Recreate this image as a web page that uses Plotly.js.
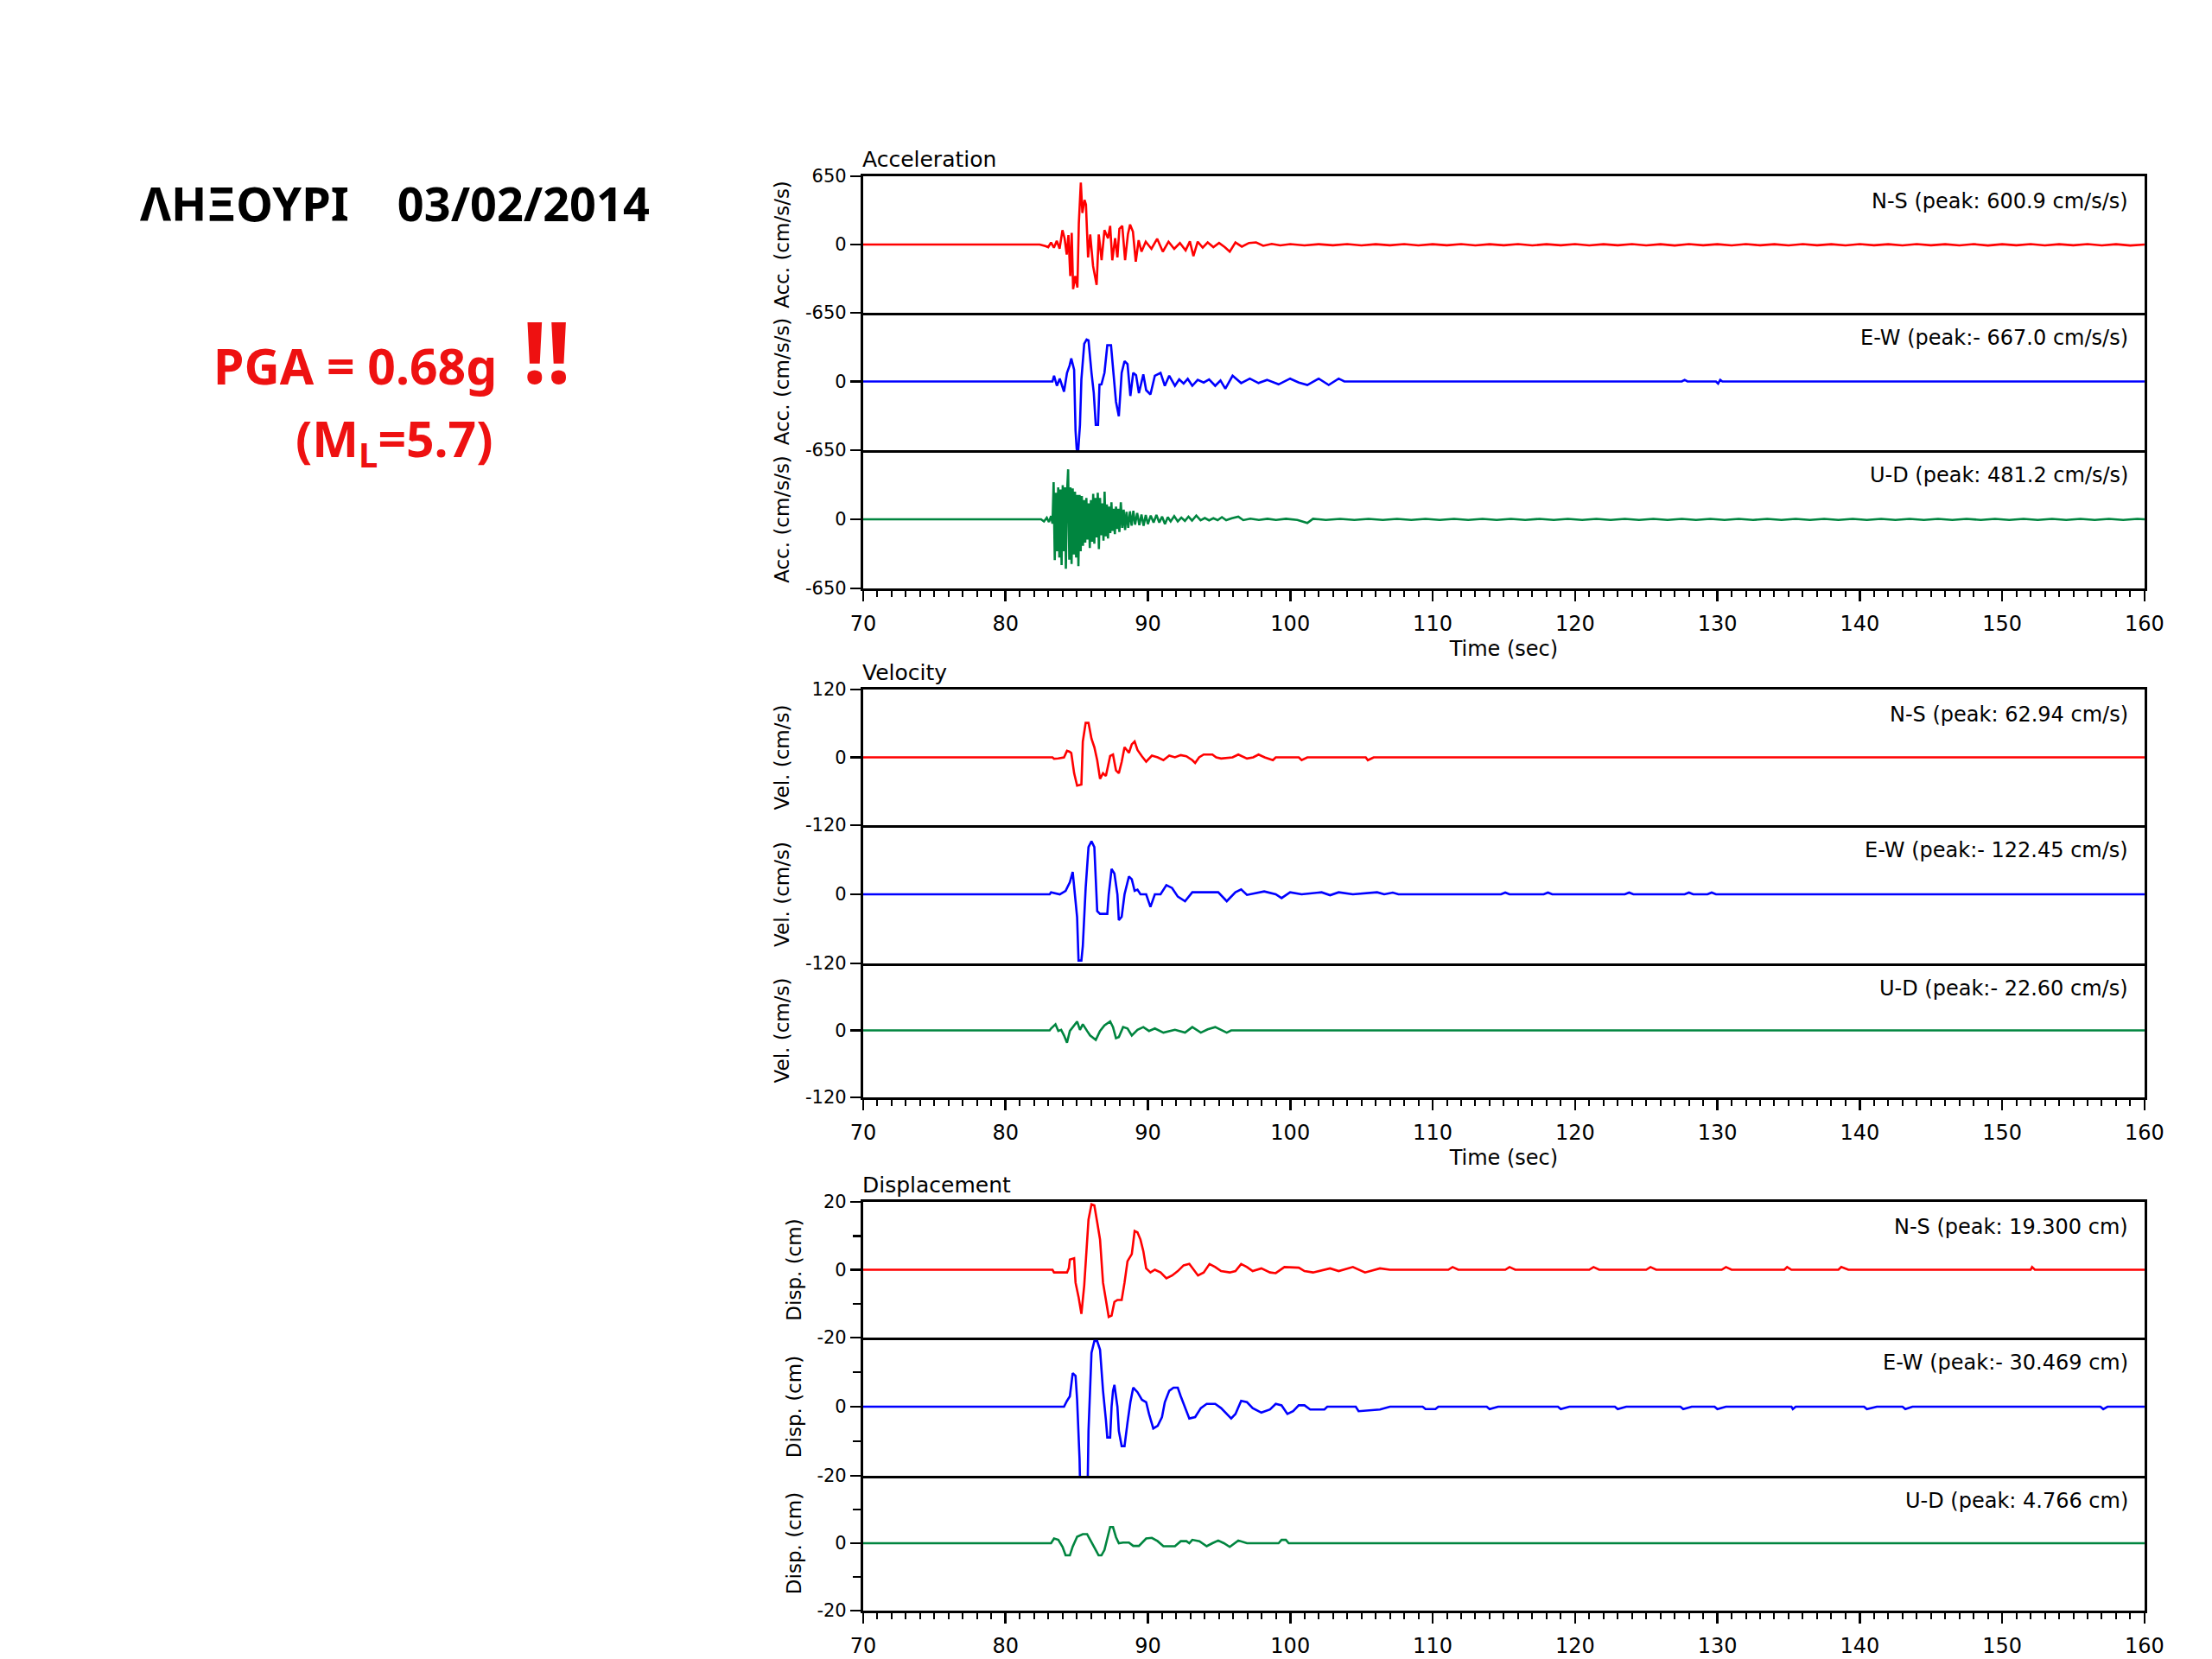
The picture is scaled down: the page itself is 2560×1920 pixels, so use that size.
<!DOCTYPE html>
<html><head><meta charset="utf-8">
<script src="https://cdn.plot.ly/plotly-3.0.1.min.js"></script>
<style>html,body{margin:0;padding:0;background:#fff}</style>
</head><body><div id="chart" style="width:2560px;height:1920px"></div>
<script>
// ---- data: [time (s), value] ----
const accNS = [[70,0],[82.4,0],[82.8,-15],[83.0,-25],[83.2,20],[83.4,-30],[83.6,35],[83.8,-40],[84.0,137],[84.15,60],[84.3,-96],[84.42,90],[84.55,-300],[84.65,110],[84.75,-425],[84.9,-300],[85.05,-410],[85.15,200],[85.29,590],[85.4,300],[85.55,425],[85.65,380],[85.8,-123],[85.95,96],[86.15,-205],[86.4,-384],[86.55,96],[86.75,-150],[86.95,137],[87.2,60],[87.35,178],[87.5,-150],[87.7,60],[87.86,-123],[88.0,150],[88.2,178],[88.4,-150],[88.6,100],[88.75,190],[88.95,123],[89.15,-164],[89.35,41],[89.55,-68],[89.85,27],[90.25,-41],[90.65,55],[91.05,-68],[91.45,27],[91.85,-41],[92.25,14],[92.65,-55],[92.95,30],[93.2,-110],[93.5,27],[93.85,-30],[94.2,20],[94.6,-25],[95.0,15],[95.4,-25],[95.75,-68],[96.15,20],[96.6,-20],[97.1,15],[97.6,20],[98.1,-12],[98.7,6],[99.3,-8],[100,4],[101,-8],[102,3],[103,-7],[104,4],[105,-8],[106,3],[107,-7],[108,4],[109,-8],[110,3],[111,-7],[112,4],[113,-8],[114,3],[115,-7],[116,4],[117,-8],[118,3],[119,-7],[120,4],[121,-8],[122,3],[123,-7],[124,4],[125,-8],[126,3],[127,-9],[128,4],[129,-7],[130,3],[131,-8],[132,4],[133,-7],[134,3],[135,-8],[136,4],[137,-7],[138,3],[139,-8],[140,4],[141,-7],[142,3],[143,-8],[144,4],[145,-7],[146,3],[147,-8],[148,4],[149,-9],[150,3],[151,-7],[152,4],[153,-8],[154,3],[155,-7],[156,4],[157,-8],[158,3],[159,-9],[160,0]];
const accEW = [[70,0],[83.3,0],[83.41,55],[83.61,-41],[83.81,27],[84.11,-96],[84.32,82],[84.5,150],[84.62,219],[84.82,110],[84.92,-466],[85.0,-640],[85.1,-667],[85.23,-411],[85.33,20],[85.53,356],[85.7,397],[85.83,390],[86.04,82],[86.2,-110],[86.34,-411],[86.5,-411],[86.6,-30],[86.74,-27],[86.95,82],[87.15,343],[87.41,343],[87.55,110],[87.76,-192],[87.96,-329],[88.16,82],[88.36,192],[88.57,164],[88.77,-137],[88.97,82],[89.17,60],[89.37,-110],[89.68,68],[89.88,-82],[90.18,-123],[90.49,55],[90.89,82],[91.19,-41],[91.5,55],[91.9,-41],[92.2,20],[92.51,-20],[92.8,25],[93.12,-41],[93.5,15],[93.92,-10],[94.3,20],[94.73,-41],[95.1,10],[95.44,-68],[95.95,55],[96.55,-15],[97.16,27],[97.77,-15],[98.37,15],[98.8,-10],[99.18,-27],[99.99,27],[100.6,-10],[101.2,-33],[102.0,27],[102.7,-33],[103.4,27],[103.8,0],[127.5,0],[127.7,15],[127.9,0],[129.9,0],[130.05,-20],[130.2,15],[130.35,0],[160,0]];
const accUD = [[70,0],[82.5,0],[82.7,-20],[82.9,15],[83.05,-25],[83.2,30],[83.3,-40],[83.38,350],[83.46,-384],[83.54,250],[83.62,-300],[83.7,300],[83.78,-360],[83.86,280],[83.94,-430],[84.02,320],[84.1,-300],[84.18,300],[84.24,-466],[84.32,250],[84.4,470],[84.48,-380],[84.56,300],[84.64,-420],[84.72,290],[84.8,-330],[84.88,260],[84.96,-360],[85.04,230],[85.12,-440],[85.2,230],[85.28,-300],[85.36,220],[85.44,-250],[85.52,180],[85.6,-220],[85.68,200],[85.76,-190],[85.84,150],[85.92,-270],[86.0,180],[86.08,-210],[86.16,240],[86.24,-230],[86.32,200],[86.4,-170],[86.48,250],[86.56,-280],[86.64,200],[86.72,-150],[86.8,150],[86.88,-200],[86.96,260],[87.04,-160],[87.12,140],[87.2,-180],[87.28,120],[87.36,-130],[87.44,160],[87.52,-110],[87.6,100],[87.68,-140],[87.76,120],[87.84,-90],[87.92,100],[88.0,-120],[88.1,160],[88.2,-80],[88.3,90],[88.4,-100],[88.5,70],[88.62,-80],[88.74,75],[88.86,-60],[88.98,80],[89.1,-50],[89.25,60],[89.4,-55],[89.55,45],[89.7,-60],[89.85,40],[90.0,-45],[90.2,35],[90.4,-30],[90.6,40],[90.8,-30],[91.0,25],[91.2,-45],[91.4,20],[91.6,-20],[91.85,30],[92.1,-20],[92.35,15],[92.6,-15],[92.85,25],[93.1,-12],[93.4,35],[93.7,-10],[94.0,12],[94.3,-10],[94.6,10],[94.9,-8],[95.2,20],[95.5,-8],[95.9,10],[96.35,25],[96.7,-8],[97.2,6],[97.8,-6],[98.4,5],[99.0,-6],[99.7,5],[100.5,-6],[101.2,-35],[101.6,5],[102.5,-6],[103.5,4],[104.5,-6],[105.5,4],[106.5,-6],[107.5,4],[108.5,-6],[109.5,4],[110.5,-6],[111.5,4],[112.5,-6],[113.5,4],[114.5,-6],[115.5,4],[116.5,-6],[117.5,4],[118.5,-6],[119.5,4],[120.5,-6],[121.5,4],[122.5,-6],[123.5,4],[124.5,-6],[125.5,4],[126.5,-6],[127.5,4],[128.5,-6],[129.5,4],[130.5,-6],[131.5,4],[132.5,-6],[133.5,4],[134.5,-6],[135.5,4],[136.5,-6],[137.5,4],[138.5,-6],[139.5,4],[140.5,-6],[141.5,4],[142.5,-6],[143.5,4],[144.5,-6],[145.5,4],[146.5,-6],[147.5,4],[148.5,-6],[149.5,4],[150.5,-6],[151.5,4],[152.5,-6],[153.5,4],[154.5,-6],[155.5,4],[156.5,-6],[157.5,4],[158.5,-6],[159.5,4],[160,0]];
const velNS = [[70,0],[83.3,0],[83.41,-2.5],[83.7,-2],[84.11,0],[84.32,11.6],[84.5,10],[84.62,7.6],[84.82,-28],[85.03,-50],[85.33,-48],[85.43,28],[85.63,61],[85.83,61],[86.04,33],[86.24,18],[86.44,-5],[86.64,-38],[86.85,-28],[87.05,-33],[87.35,2.5],[87.55,5],[87.76,-23],[87.96,-28],[88.16,-8],[88.36,18],[88.67,8],[88.87,23],[89.07,28],[89.27,13],[89.58,2],[89.88,-7.6],[90.28,3],[90.69,0],[91.09,-5],[91.5,3],[91.9,0],[92.31,4],[92.7,2],[93.12,-5],[93.32,-10],[93.6,0],[93.92,5],[94.53,5],[94.8,0],[95.14,-2],[95.95,0],[96.35,5],[96.96,-2],[97.4,0],[97.77,5],[98.2,0],[98.78,-5],[98.98,0],[100.6,0],[100.8,-5],[101.2,0],[105.3,0],[105.45,-5],[105.86,0],[160,0]];
const velEW = [[70,0],[83.1,0],[83.2,3.5],[83.5,2],[83.81,0],[84.22,6],[84.52,21],[84.72,39],[84.82,11],[85.03,-40],[85.13,-115],[85.33,-115],[85.43,-90],[85.63,11],[85.83,82],[86.04,92],[86.24,82],[86.34,31],[86.44,-29],[86.64,-34],[87.15,-34],[87.25,0],[87.35,21],[87.45,44],[87.65,36],[87.86,0],[87.96,-45],[88.16,-39],[88.36,0],[88.67,31],[88.87,26],[89.07,6],[89.27,8],[89.48,0],[89.88,0],[90.18,-22],[90.49,0],[90.89,0],[91.3,16],[91.7,11],[92.1,-4],[92.61,-12],[93.12,3.5],[94.94,3.5],[95.54,-12],[96.15,3.5],[96.55,8.6],[96.96,-1],[98.17,5],[98.98,0],[99.39,-6.6],[99.99,3.5],[100.8,0],[102.2,3.5],[102.8,-1.5],[103.4,3.5],[104.4,0],[106.1,3.5],[106.6,0],[107.2,3],[107.6,0],[114.8,0],[115.1,3],[115.4,0],[117.8,0],[118.1,3],[118.4,0],[123.5,0],[123.8,3],[124.1,0],[127.7,0],[128,3],[128.3,0],[129.3,0],[129.6,3],[129.9,0],[160,0]];
const velUD = [[70,0],[83.1,0],[83.2,3.5],[83.51,11],[83.71,-1],[83.91,1],[84.11,-9],[84.32,-22],[84.52,-1],[84.72,6],[85.03,16],[85.23,1],[85.43,11],[85.73,-1],[85.94,-9],[86.34,-17],[86.64,-1],[86.95,9],[87.35,16],[87.55,6],[87.76,-14],[87.96,-12],[88.26,6],[88.57,3.5],[88.87,-9],[89.27,1],[89.68,6],[90.08,-1],[90.49,3.5],[91.09,-4],[91.9,1],[92.61,-4],[93.12,6],[93.72,-4],[94.2,2],[94.73,6],[95.14,1],[95.54,-4],[95.85,0],[160,0]];
const dispNS = [[70,0],[83.3,0],[83.41,-0.8],[84.32,-0.8],[84.45,0.5],[84.52,3],[84.82,3.4],[84.92,-3.8],[85.13,-8],[85.33,-13],[85.53,-4.6],[85.63,3],[85.83,14.8],[86.04,19.3],[86.24,19],[86.44,14],[86.64,8.9],[86.85,-3.8],[87.05,-8.9],[87.25,-13.9],[87.45,-13.5],[87.65,-9.5],[87.86,-8.9],[88.16,-8.9],[88.36,-3.8],[88.57,2.5],[88.87,4.6],[89.07,11.4],[89.27,11],[89.48,8.9],[89.68,5.5],[89.88,0.4],[90.18,-0.8],[90.49,0],[90.89,-0.8],[91.3,-2.5],[91.7,-1.7],[92.1,-0.4],[92.51,1.3],[92.91,1.7],[93.22,0],[93.52,-1.7],[93.92,-0.8],[94.33,1.7],[94.73,0.8],[95.14,-0.4],[95.75,-0.8],[96.15,-0.4],[96.55,1.7],[96.96,0.8],[97.36,-0.4],[97.97,0.4],[98.58,-0.8],[98.98,-1],[99.59,0.8],[100.6,0.6],[101.0,-0.4],[101.6,-0.8],[102.8,0.4],[103.4,-0.4],[104.4,0.8],[105.25,-0.8],[106.3,0.4],[107,0],[111.1,0],[111.4,0.8],[111.8,0],[115.1,0],[115.4,0.8],[115.8,0],[121.0,0],[121.3,0.8],[121.7,0],[125.0,0],[125.3,0.8],[125.7,0],[130.3,0],[130.6,0.8],[131,0],[134.7,0],[134.9,0.8],[135.2,0],[138.5,0],[138.7,0.8],[139.2,0],[152.0,0],[152.1,0.8],[152.3,0],[160,0]];
const dispEW = [[70,0],[84.11,0],[84.32,1.7],[84.52,3],[84.72,9.7],[84.92,8.9],[85.03,2],[85.13,-8.9],[85.2,-15],[85.28,-30.4],[85.75,-28],[85.83,-7],[86.04,15.6],[86.24,19],[86.44,19],[86.64,16.5],[86.85,4.6],[87.05,-3.8],[87.15,-8.9],[87.35,-8.9],[87.45,0],[87.55,4.6],[87.65,6.3],[87.86,0],[87.96,-7],[88.16,-11.4],[88.36,-11.4],[88.57,-4.6],[88.77,1.3],[88.97,5.5],[89.27,4.2],[89.58,2],[89.88,1.3],[90.08,-2.1],[90.38,-6.3],[90.69,-5.5],[90.99,-3],[91.19,1.3],[91.5,4.6],[91.8,5.5],[92.1,5.5],[92.31,3],[92.61,-0.4],[92.91,-3.4],[93.32,-3],[93.72,-0.4],[94.13,0.8],[94.73,0.8],[95.14,-0.4],[95.54,-2.1],[95.85,-3.4],[96.15,-2.1],[96.55,1.7],[96.96,1.3],[97.36,-0.4],[97.97,-1.7],[98.58,-0.8],[98.98,0.8],[99.39,0.4],[99.8,-2.1],[100.2,-1.3],[100.6,0.4],[101.0,0.4],[101.4,-0.8],[102.4,-0.8],[102.6,0],[104.6,0],[104.8,-1.3],[106.3,-0.8],[107,0],[109.3,0],[109.5,-0.7],[110.2,-0.7],[110.4,0],[113.8,0],[114,-0.7],[114.6,0],[118.8,0],[119,-0.7],[119.6,0],[122.8,0],[123,-0.7],[123.6,0],[127.4,0],[127.6,-0.7],[128.2,0],[129.8,0],[130,-0.7],[130.6,0],[135.2,0],[135.3,-0.7],[135.5,0],[140.3,0],[140.5,-0.7],[141.2,0],[143.0,0],[143.2,-0.7],[143.7,0],[156.9,0],[157.1,-0.7],[157.4,0],[160,0]];
const dispUD = [[70,0],[83.2,0],[83.41,1.4],[83.71,1],[84.01,-1.1],[84.22,-3.6],[84.52,-3.6],[84.72,-1],[85.03,1.9],[85.43,2.7],[85.73,2.7],[85.94,1],[86.24,-1.5],[86.54,-3.6],[86.74,-3.6],[86.95,-2],[87.15,1.4],[87.35,4.8],[87.55,4.8],[87.76,1.8],[87.96,0],[88.26,0.2],[88.67,0.2],[88.97,-0.8],[89.37,-0.8],[89.58,0],[89.88,1.4],[90.28,1.6],[90.69,0.6],[91.09,-0.9],[91.9,-0.9],[92.31,0.6],[92.71,0.6],[92.91,0],[93.12,1],[93.62,0.6],[94.13,-0.9],[94.53,0],[94.94,0.8],[95.34,0],[95.75,-1.1],[96.35,0.8],[96.96,0],[99.18,0],[99.39,1],[99.69,1],[99.89,0],[160,0]];

const accTicks = [-650, 0, 650];
const velTicks = [-120, 0, 120];
const dispTicks = [-20, 0, 20];
const dispMinorTicks = [-10, 10];
const accLabels = ['N-S (peak: 600.9 cm/s/s)', 'E-W (peak:- 667.0 cm/s/s)', 'U-D (peak: 481.2 cm/s/s)'];
const velLabels = ['N-S (peak: 62.94 cm/s)', 'E-W (peak:- 122.45 cm/s)', 'U-D (peak:- 22.60 cm/s)'];
const dispLabels = ['N-S (peak: 19.300 cm)', 'E-W (peak:- 30.469 cm)', 'U-D (peak: 4.766 cm)'];
const groupNames = ['Acceleration', 'Velocity', 'Displacement'];
const yTitles = ['Acc. (cm/s/s)', 'Vel. (cm/s)', 'Disp. (cm)'];
const timeRange = [70, 160];

// ---- layout geometry ----
const COLORS = ['#ff0000', '#0000ff', '#00853f'];
const XDOM = [0.3902, 0.9695];
const EDGES = [
  [0.89375, 0.81146, 0.72865, 0.64531],
  [0.58438, 0.50260, 0.41927, 0.33854],
  [0.27552, 0.19375, 0.11042, 0.02917]
];
const FONT = 'DejaVu Sans';

const groups = [
  {series: [accNS, accEW, accUD], ticks: accTicks, labels: accLabels, xtitle: 'Time (sec)'},
  {series: [velNS, velEW, velUD], ticks: velTicks, labels: velLabels, xtitle: 'Time (sec)'},
  {series: [dispNS, dispEW, dispUD], ticks: dispTicks, labels: dispLabels, xtitle: null, minor: dispMinorTicks}
];

const traces = [];
const annotations = [];
const layout = {
  width: 2560, height: 1920,
  margin: {l: 0, r: 0, t: 0, b: 0},
  paper_bgcolor: '#ffffff', plot_bgcolor: '#ffffff',
  showlegend: false,
  font: {family: FONT, color: '#000'}
};

let k = 0;
groups.forEach((g, gi) => {
  const E = EDGES[gi];
  const lim = g.ticks[2];
  annotations.push({
    xref: 'paper', yref: 'paper', x: XDOM[0] - 0.001, y: E[0] + 0.0104,
    xanchor: 'left', yanchor: 'middle', showarrow: false,
    text: groupNames[gi], font: {family: FONT, size: 25, color: '#000'}
  });
  g.series.forEach((s, ri) => {
    k++;
    const sfx = k === 1 ? '' : String(k);
    const bottom = ri === 2;
    traces.push({
      type: 'scatter', mode: 'lines',
      x: s.map(p => p[0]), y: s.map(p => p[1]),
      xaxis: 'x' + sfx, yaxis: 'y' + sfx,
      line: {color: COLORS[ri], width: 2.6},
      hoverinfo: 'skip'
    });
    const xa = {
      domain: XDOM, range: timeRange, anchor: 'y' + sfx,
      showline: true, mirror: ri === 0, linecolor: '#000', linewidth: 3,
      showgrid: false, zeroline: false, fixedrange: true,
      tickmode: 'linear', tick0: 70, dtick: 10,
      ticks: bottom ? 'outside' : '', ticklen: 12, tickwidth: 2.5, tickcolor: '#000',
      showticklabels: bottom, ticklabelstandoff: 5,
      tickfont: {family: FONT, size: 24, color: '#000'},
      minor: bottom ? {tick0: 70, dtick: 1, ticks: 'outside', ticklen: 7, tickwidth: 2, tickcolor: '#000', showgrid: false} : {ticks: '', showgrid: false}
    };
    if (bottom && g.xtitle) {
      xa.title = {text: g.xtitle, font: {family: FONT, size: 24, color: '#000'}, standoff: 8};
    }
    layout['xaxis' + sfx] = xa;
    // boundary labels shared with the panel above: draw the top value only on the first panel
    const tv = ri === 0 ? g.ticks : g.ticks.slice(0, 2);
    const ya = {
      domain: [E[ri + 1], E[ri]], range: [-lim, lim], anchor: 'x' + sfx,
      showline: true, mirror: true, linecolor: '#000', linewidth: 3,
      showgrid: false, zeroline: false, fixedrange: true,
      tickmode: 'array', tickvals: tv, ticktext: tv.map(String),
      ticks: 'outside', ticklen: 12, tickwidth: 2.5, tickcolor: '#000',
      tickfont: {family: FONT, size: 21, color: '#000'},
      title: {text: yTitles[gi], font: {family: FONT, size: 23, color: '#000'}, standoff: 12}
    };
    if (g.minor) {
      ya.minor = {tickmode: 'array', tickvals: g.minor, ticks: 'outside', ticklen: 9, tickwidth: 2.5, tickcolor: '#000', showgrid: false};
    }
    layout['yaxis' + sfx] = ya;
    annotations.push({
      xref: 'paper', yref: 'paper', x: XDOM[1] - 0.0066, y: E[ri] - 0.0151,
      xanchor: 'right', yanchor: 'middle', showarrow: false,
      text: g.labels[ri], font: {family: FONT, size: 24, color: '#000'}
    });
  });
});

// left-hand headline texts
annotations.push({
  xref: 'paper', yref: 'paper', x: 0.1785, y: 0.8776, xanchor: 'center', yanchor: 'middle', showarrow: false,
  text: '<b>ΛΗΞΟΥΡΙ\u00a0\u00a0\u00a0 03/02/2014</b>', font: {family: 'Noto Sans', size: 54, color: '#000'}
});
annotations.push({
  xref: 'paper', yref: 'paper', x: 0.1605, y: 0.7797, xanchor: 'center', yanchor: 'middle', showarrow: false,
  text: '<b>PGA = 0.68g</b>', font: {family: 'Noto Sans', size: 57, color: '#ee1111'}
});
annotations.push({
  xref: 'paper', yref: 'paper', x: 0.2469, y: 0.7885, xanchor: 'center', yanchor: 'middle', showarrow: false,
  text: '<b>!!</b>', font: {family: 'Noto Sans', size: 98, color: '#ee1111'}
});
annotations.push({
  xref: 'paper', yref: 'paper', x: 0.1785, y: 0.7339, xanchor: 'center', yanchor: 'middle', showarrow: false,
  text: '<b>(M<sub>L</sub>=5.7)</b>', font: {family: 'Noto Sans', size: 57, color: '#ee1111'}
});

layout.annotations = annotations;
Plotly.newPlot('chart', traces, layout, {displayModeBar: false, staticPlot: true});
</script></body></html>
